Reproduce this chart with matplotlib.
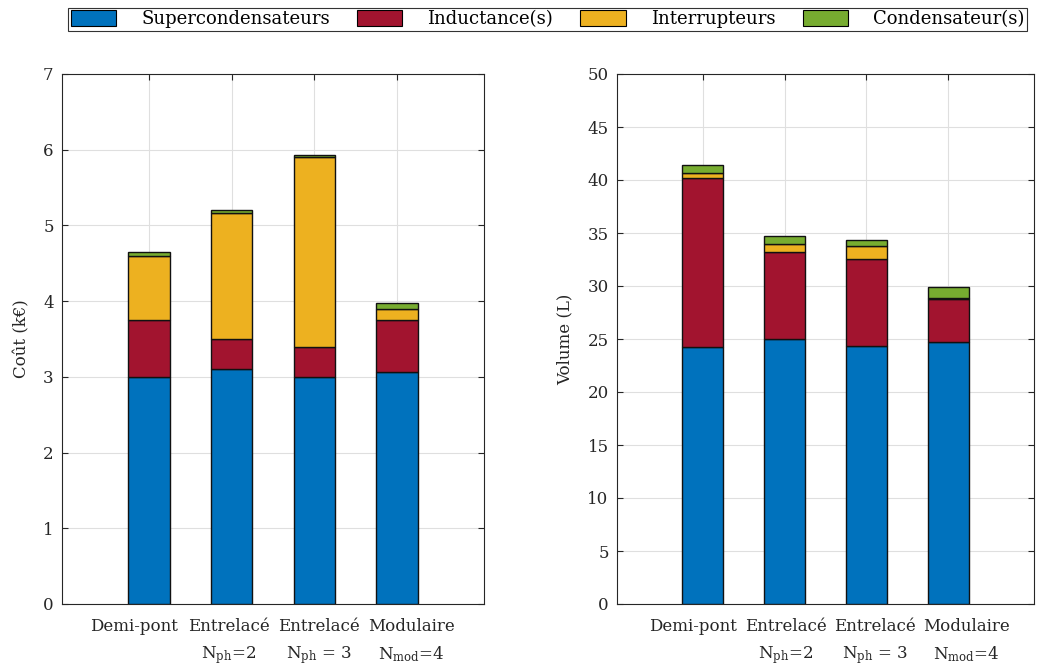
import matplotlib
matplotlib.use("Agg")
import matplotlib.pyplot as plt
import matplotlib.transforms as mtransforms
import numpy as np
from matplotlib.patches import Patch

categories = ["Demi-pont", "Entrelacé\n$\\mathrm{N_{ph}}$=2", "Entrelacé\n$\\mathrm{N_{ph}}$ = 3", "Modulaire\n$\\mathrm{N_{mod}}$=4"]
series_names = ["Supercondensateurs", "Inductance(s)", "Interrupteurs", "Condensateur(s)"]
colors = ["#0072BD", "#A2142F", "#EDB120", "#77AC30"]

# Cost (k€)
cost_super = [3.00, 3.10, 3.00, 3.06]
cost_induct = [0.75, 0.40, 0.40, 0.69]
cost_switch = [0.84, 1.67, 2.50, 0.15]
cost_cond = [0.06, 0.04, 0.03, 0.07]

# Volume (L)
vol_super = [24.2, 25.0, 24.3, 24.7]
vol_induct = [16.0, 8.2, 8.25, 4.05]
vol_switch = [0.45, 0.8, 1.2, 0.1]
vol_cond = [0.8, 0.7, 0.6, 1.05]

plt.rcParams['font.family'] = ['DejaVu Serif']
plt.rcParams['mathtext.fontset'] = 'dejavuserif'

fig = plt.figure(figsize=(10.37, 6.68), dpi=100)
ax1 = fig.add_axes([62/1037, 1-604/668, 422/1037, 530/668])
ax2 = fig.add_axes([617/1037, 1-604/668, 417/1037, 530/668])

x = np.arange(1, len(categories) + 1)

def stack(ax, data, ylim, yticks, ylabel, label_shifts, labelpad):
    bottom = np.zeros(len(categories))
    for vals, c in zip(data, colors):
        ax.bar(x, vals, 0.5, bottom=bottom, color=c, edgecolor='#111111', linewidth=1.0, zorder=3)
        bottom += np.array(vals)
    ax.set_xlim(-0.05, 5.05)
    ax.set_ylim(*ylim)
    ax.set_yticks(yticks)
    ax.set_xticks(x)
    ax.set_xticklabels(categories, fontsize=12, linespacing=1.65)
    ax.tick_params(axis='both', direction='in', top=True, right=True, length=4, color='#262626', labelcolor='#262626')
    ax.tick_params(axis='x', pad=10)
    ax.tick_params(axis='y', labelsize=12, pad=6)
    ax.grid(True, color='#dfdfdf', linewidth=0.8, zorder=0)
    ax.set_axisbelow(True)
    for s in ax.spines.values():
        s.set_color('#262626')
        s.set_linewidth(0.8)
    ax.set_ylabel(ylabel, fontsize=12, color='#262626', labelpad=labelpad)
    for lab, dx in zip(ax.get_xticklabels(), label_shifts):
        lab.set_transform(lab.get_transform() + mtransforms.ScaledTranslation(dx/100, 0, fig.dpi_scale_trans))

stack(ax1, [cost_super, cost_induct, cost_switch, cost_cond], (0, 7), range(0, 8), "Coût (k€)", [-15, -3, 5, 14], 9)
stack(ax2, [vol_super, vol_induct, vol_switch, vol_cond], (0, 50), range(0, 51, 5), "Volume (L)", [-10, 1, 9, 18], 10)

handles = [Patch(facecolor=c, edgecolor='black', linewidth=0.8) for c in colors]
leg = fig.legend(handles, series_names, loc='lower left', ncol=4, mode='expand',
                 bbox_to_anchor=(68/1037, 1-31/668, (1027-68)/1037, 25/668),
                 fontsize=13, frameon=True, fancybox=False, edgecolor='black',
                 handlelength=2.5, handleheight=0.95, borderpad=0.15, handletextpad=1.4,
                 borderaxespad=0)
leg.get_frame().set_linewidth(0.8)

fig.savefig("out.png", dpi=100)
